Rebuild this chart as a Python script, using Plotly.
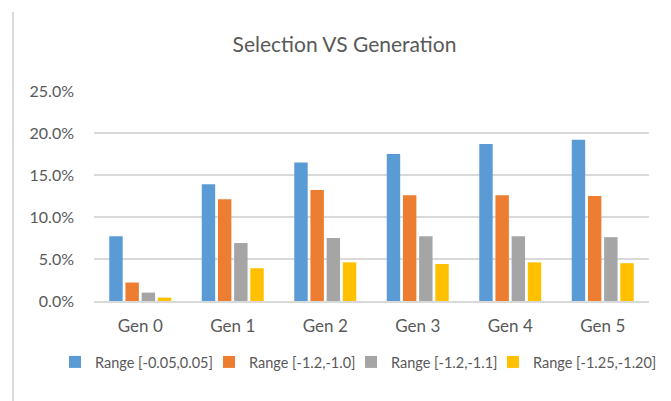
import plotly.graph_objects as go

categories = ["Gen 0", "Gen 1", "Gen 2", "Gen 3", "Gen 4", "Gen 5"]
series_names = ["Range [-0.05,0.05]", "Range [-1.2,-1.0]", "Range [-1.2,-1.1]", "Range [-1.25,-1.20]"]
s_blue = [0.077, 0.139, 0.165, 0.175, 0.187, 0.192]
s_orange = [0.022, 0.121, 0.132, 0.126, 0.126, 0.125]
s_gray = [0.010, 0.069, 0.075, 0.077, 0.077, 0.076]
s_yellow = [0.004, 0.039, 0.046, 0.044, 0.046, 0.045]
colors = ["#5B9BD5", "#ED7D31", "#A5A5A5", "#FFC000"]

FONT = "Lato"
TXT = "#595959"

# the page body adds an 8px offset; geometry below is in figure px
OFF = 8
L, T = 94 - OFF, 91 - OFF
W, H = 555, 210
R, B = 671 - L - W, 401 - T - H

legend_ids = ["legend", "legend2", "legend3", "legend4"]
legend_px = [55, 209, 351, 493]  # page px of legend entry origin

fig = go.Figure()
for name, vals, col, lid in zip(series_names, [s_blue, s_orange, s_gray, s_yellow], colors, legend_ids):
    fig.add_trace(go.Bar(x=categories, y=vals, name=name, legend=lid,
                         marker=dict(color=col, line=dict(width=0))))

legend_layout = {}
for lid, px in zip(legend_ids, legend_px):
    legend_layout[lid] = dict(orientation="h", x=(px - OFF - L) / W, xanchor="left",
                              y=(T + H - (362 - OFF)) / H, yanchor="middle",
                              font=dict(family=FONT, size=14.5, color=TXT), itemwidth=30,
                              bgcolor="rgba(0,0,0,0)", borderwidth=0)

fig.update_layout(
    width=671, height=401,
    margin=dict(l=L, r=R, t=T, b=B, autoexpand=False),
    paper_bgcolor="white", plot_bgcolor="white",
    barmode="group", bargap=0.3, bargroupgap=0.17,
    font=dict(family=FONT, color=TXT, size=14),
    title=dict(text="Selection VS Generation", x=0.5015, xref="container", xanchor="center",
               y=1 - 37 / 401, yref="container", yanchor="middle",
               font=dict(family=FONT, size=21, color=TXT)),
    showlegend=True,
    shapes=[dict(type="line", xref="paper", yref="paper",
                 x0=(13 - OFF - L) / W, x1=(13 - OFF - L) / W,
                 y0=(T + H - (12 - OFF)) / H, y1=(T + H - 401) / H,
                 line=dict(color="#D9D9D9", width=2))],
    **legend_layout,
)
fig.update_yaxes(range=[0, 0.25], dtick=0.05, tickformat=".1%", showgrid=True,
                 gridcolor="#D9D9D9", gridwidth=1.5, zeroline=False, showline=False,
                 tickfont=dict(family=FONT, size=16, color=TXT), ticklabelstandoff=19,
                 automargin=False)
fig.update_xaxes(showline=True, linecolor="#D9D9D9", linewidth=1.5, ticks="",
                 tickfont=dict(family=FONT, size=17, color=TXT), ticklabelstandoff=9,
                 automargin=False)

fig.write_html("out.html")
